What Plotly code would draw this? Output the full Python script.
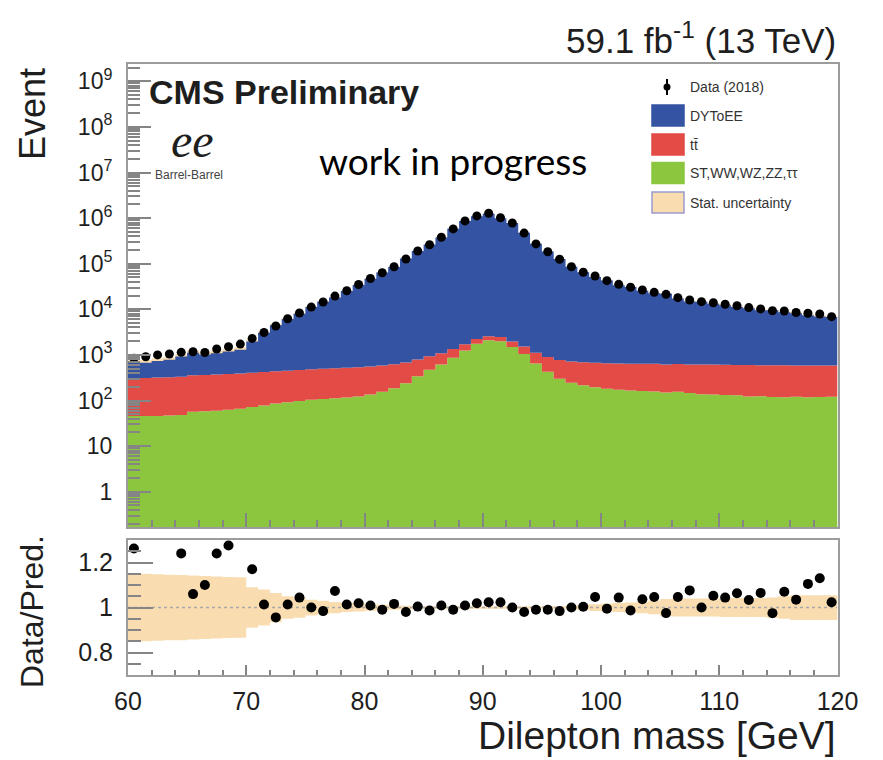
import numpy as np
import plotly.graph_objects as go

W, H = 883, 760

# 1 GeV bins from 60 to 120 GeV
edges = np.arange(60, 121)
centers = edges[:-1] + 0.5

# Observed events per bin (Data 2018)
data = [842, 912, 1000, 1050, 1140, 1175, 1130, 1350, 1510, 1730,
        2300, 3100, 4300, 6200, 8300, 11200, 14500, 19500, 25500, 35000,
        47500, 63500, 86000, 127000, 190000, 260000, 380000, 580000, 870000, 1120000,
        1280000, 1020000, 780000, 470000, 272000, 183000, 125000, 86000, 65000, 53700,
        42500, 35300, 30400, 26500, 23600, 21300, 18000, 16000, 14700, 13900,
        12900, 12000, 10900, 10200, 9300, 9200, 8500, 8200, 7900, 6900]

# Drell-Yan -> ee prediction
dy = [359, 364, 417, 459, 586, 752, 664, 717, 803, 909,
      1559, 2637, 4060, 5668, 7482, 10718, 14240, 17665, 24652, 33810,
      46516, 63554, 84021, 128906, 188448, 262493, 375525, 584519, 860518, 1096893,
      1248647, 994592, 778026, 478068, 273626, 183947, 126261, 85282, 64117, 50618,
      42054, 33164, 30160, 24915, 21901, 21230, 16558, 14250, 14086, 12597,
      11748, 10687, 9952, 8988, 8949, 8006, 7624, 6833, 6405, 6160]

# ttbar prediction
ttbar = [262, 266, 272, 278, 285, 300, 305, 312, 318, 326,
         335, 345, 352, 360, 370, 378, 388, 396, 405, 415,
         425, 432, 440, 446, 455, 462, 466, 470, 472, 474,
         475, 475, 474, 474, 472, 472, 472, 473, 474, 476,
         478, 476, 474, 478, 482, 466, 478, 474, 476, 480,
         476, 472, 478, 466, 470, 474, 468, 470, 466, 464]

# ST, WW, WZ, ZZ, tautau prediction
other = [46, 46, 46, 47, 48, 57, 58, 60, 63, 66,
         72, 78, 86, 92, 98, 104, 108, 112, 116, 122,
         135, 155, 185, 240, 340, 470, 620, 870, 1250, 1750,
         2100, 2000, 1500, 1050, 650, 430, 300, 245, 215, 195,
         182, 172, 166, 162, 158, 150, 156, 146, 138, 136,
         132, 130, 122, 124, 120, 118, 121, 118, 120, 121]

# Relative statistical uncertainty of the prediction
stat_unc = [0.150, 0.150, 0.148, 0.146, 0.145, 0.142, 0.140, 0.138, 0.136, 0.134,
            0.090, 0.080, 0.065, 0.050, 0.045, 0.035, 0.030, 0.025, 0.020, 0.018,
            0.014, 0.012, 0.010, 0.008, 0.007, 0.006, 0.006, 0.006, 0.006, 0.006,
            0.006, 0.006, 0.006, 0.006, 0.006, 0.006, 0.006, 0.008, 0.012, 0.015,
            0.018, 0.020, 0.022, 0.025, 0.030, 0.038, 0.040, 0.040, 0.040, 0.040,
            0.042, 0.042, 0.042, 0.042, 0.045, 0.050, 0.055, 0.055, 0.055, 0.055]

data_a = np.array(data, float)
dy_a = np.array(dy, float)
tt_a = np.array(ttbar, float)
oth_a = np.array(other, float)
unc_a = np.array(stat_unc, float)
pred = oth_a + tt_a + dy_a
ratio = data_a / pred

BLUE = "#3453A3"
RED = "#E34B47"
GREEN = "#8CC63F"
BEIGE = "#F9DDB1"
FRAME = "#9c9c9c"
TICK = "#858585"
SANS = "Liberation Sans, Arial, sans-serif"
FLOOR = 1e-3  # below the visible log range, used as the fill floor


def px(x):
    return x / W


def py(y):
    return 1 - y / H


def step(vals):
    # values at bin edges for an hv step line
    return np.append(vals, vals[-1])


def hv(y, xa, ya, **kw):
    return go.Scatter(x=edges, y=step(y), mode="lines", line=dict(width=0, shape="hv"),
                      xaxis=xa, yaxis=ya, hoverinfo="skip", **kw)


fig = go.Figure()

# statistical band on the total prediction (behind the stack)
fig.add_trace(hv(pred * (1 - unc_a), "x", "y"))
fig.add_trace(hv(pred * (1 + unc_a), "x", "y", fill="tonexty", fillcolor=BEIGE))

# stacked histograms as step fills
fig.add_trace(hv(np.full(len(centers), FLOOR), "x", "y"))
cum = np.zeros(len(centers))
for vals, col in [(oth_a, GREEN), (tt_a, RED), (dy_a, BLUE)]:
    cum = cum + vals
    fig.add_trace(hv(cum.copy(), "x", "y", fill="tonexty", fillcolor=col))

# data points
fig.add_trace(go.Scatter(x=centers, y=data_a, mode="markers",
                         marker=dict(color="black", size=9),
                         xaxis="x", yaxis="y"))

# ratio panel: uncertainty band, unity line, data/prediction
fig.add_trace(hv(1 - unc_a, "x2", "y2"))
fig.add_trace(hv(1 + unc_a, "x2", "y2", fill="tonexty", fillcolor=BEIGE))
fig.add_trace(go.Scatter(x=[60, 120], y=[1, 1], mode="lines",
                         line=dict(color="#a8a8a8", width=1.5, dash="dot"),
                         xaxis="x2", yaxis="y2", hoverinfo="skip"))
fig.add_trace(go.Scatter(x=centers, y=ratio, mode="markers",
                         marker=dict(color="black", size=10),
                         xaxis="x2", yaxis="y2"))

# axes
main_ticks = [10.0 ** k for k in range(0, 10)]
main_text = ["1", "10"] + ["10<sup>%d</sup>" % k for k in range(2, 10)]
minor_main = [m * 10.0 ** k for k in range(-1, 10) for m in range(2, 10)]

xdom = [px(128), px(837.5)]
common_x = dict(range=[60, 120], domain=xdom, showline=True, mirror=True,
                linecolor=FRAME, linewidth=2, showgrid=False, zeroline=False,
                ticks="inside", tickcolor=TICK, tickwidth=2, automargin=False,
                tickmode="linear", tick0=60, dtick=10)

fig.update_layout(
    width=W, height=H, autosize=False,
    margin=dict(l=0, r=0, t=0, b=0, pad=0),
    paper_bgcolor="white", plot_bgcolor="white",
    showlegend=False,
    font=dict(family=SANS, color="#1e1e1e"),
    xaxis=dict(common_x, anchor="y", showticklabels=False, ticklen=14,
               minor=dict(ticks="inside", dtick=2, tick0=60, ticklen=7,
                          tickcolor=TICK, tickwidth=1.5)),
    yaxis=dict(type="log", range=[-0.774, 9.38], domain=[py(527), py(64)],
               anchor="x", showline=True, mirror=True, linecolor=FRAME,
               linewidth=2, showgrid=False, zeroline=False, automargin=False,
               tickmode="array", tickvals=main_ticks, ticktext=main_text,
               ticks="inside", ticklen=23, tickcolor=TICK, tickwidth=2,
               ticklabelstandoff=9, tickfont=dict(size=23, family=SANS),
               minor=dict(ticks="inside", tickmode="array", tickvals=minor_main,
                          ticklen=12, tickcolor=TICK, tickwidth=1.5)),
    xaxis2=dict(common_x, anchor="y2", ticklen=10,
                tickfont=dict(size=25, family=SANS), ticklabelstandoff=3,
                minor=dict(ticks="inside", dtick=2, tick0=60, ticklen=5,
                           tickcolor=TICK, tickwidth=1.5)),
    yaxis2=dict(range=[0.7, 1.3], domain=[py(675), py(540)], anchor="x2",
                showline=True, mirror=True, linecolor=FRAME, linewidth=2,
                showgrid=False, zeroline=False, automargin=False,
                tickmode="array", tickvals=[0.8, 1.0, 1.2],
                ticktext=["0.8", "1", "1.2"],
                ticks="inside", ticklen=25, tickcolor=TICK, tickwidth=2,
                ticklabelstandoff=8, tickfont=dict(size=25, family=SANS),
                minor=dict(ticks="inside", tickmode="linear", tick0=0.7,
                           dtick=0.05, ticklen=13, tickcolor=TICK, tickwidth=1.5)),
)

ann = [
    dict(text="59.1 fb<sup>-1</sup> (13 TeV)", x=px(838), y=py(38),
         xanchor="right", yanchor="middle", font=dict(size=35, family=SANS)),
    dict(text="<b>CMS Preliminary</b>", x=px(147), y=py(92),
         xanchor="left", yanchor="middle", font=dict(size=34, family=SANS)),
    dict(text="<i>ee</i>", x=px(169), y=py(141),
         xanchor="left", yanchor="middle",
         font=dict(size=48, family="Liberation Serif, DejaVu Serif, serif")),
    dict(text="Barrel-Barrel", x=px(153), y=py(175),
         xanchor="left", yanchor="middle", font=dict(size=12, family=SANS, color="#444")),
    dict(text="work in progress", x=px(317), y=py(161),
         xanchor="left", yanchor="middle", font=dict(size=37, family="Lato, sans-serif",
                                                     color="black")),
    dict(text="Event", x=px(32), y=py(66), textangle=-90,
         xanchor="center", yanchor="top", font=dict(size=36, family=SANS)),
    dict(text="Data/Pred.", x=px(32), y=py(612), textangle=-90,
         xanchor="center", yanchor="middle", font=dict(size=32, family=SANS)),
    dict(text="Dilepton mass [GeV]", x=px(838), y=py(759),
         xanchor="right", yanchor="bottom", font=dict(size=39, family=SANS)),
]

# legend drawn as boxes with labels
leg_rows = [
    ("Data (2018)", None, 87),
    ("DYToEE", BLUE, 115.5),
    ("tt\u0304", RED, 144.5),
    ("ST,WW,WZ,ZZ,\u03c4\u03c4", GREEN, 173),
    ("Stat. uncertainty", BEIGE, 202.5),
]
shapes = []
for label, col, yc in leg_rows:
    ann.append(dict(text=label, x=px(688), y=py(yc), xanchor="left", yanchor="middle",
                    font=dict(size=14, family=SANS, color="#333")))
    if col is None:
        shapes.append(dict(type="line", xref="paper", yref="paper",
                           x0=px(667), x1=px(667), y0=py(79), y1=py(95),
                           line=dict(color="black", width=2)))
        shapes.append(dict(type="circle", xref="paper", yref="paper",
                           x0=px(663.5), x1=px(670.5), y0=py(90.5), y1=py(83.5),
                           fillcolor="black", line=dict(color="black", width=0)))
    else:
        border = "#9a9ad0" if col == BEIGE else col
        shapes.append(dict(type="rect", xref="paper", yref="paper",
                           x0=px(652), x1=px(684), y0=py(yc + 10.5), y1=py(yc - 10.5),
                           fillcolor=col, line=dict(color=border, width=1.5)))

for a in ann:
    a.update(xref="paper", yref="paper", showarrow=False)
fig.update_layout(annotations=ann, shapes=shapes)

fig.write_html("out.html")
